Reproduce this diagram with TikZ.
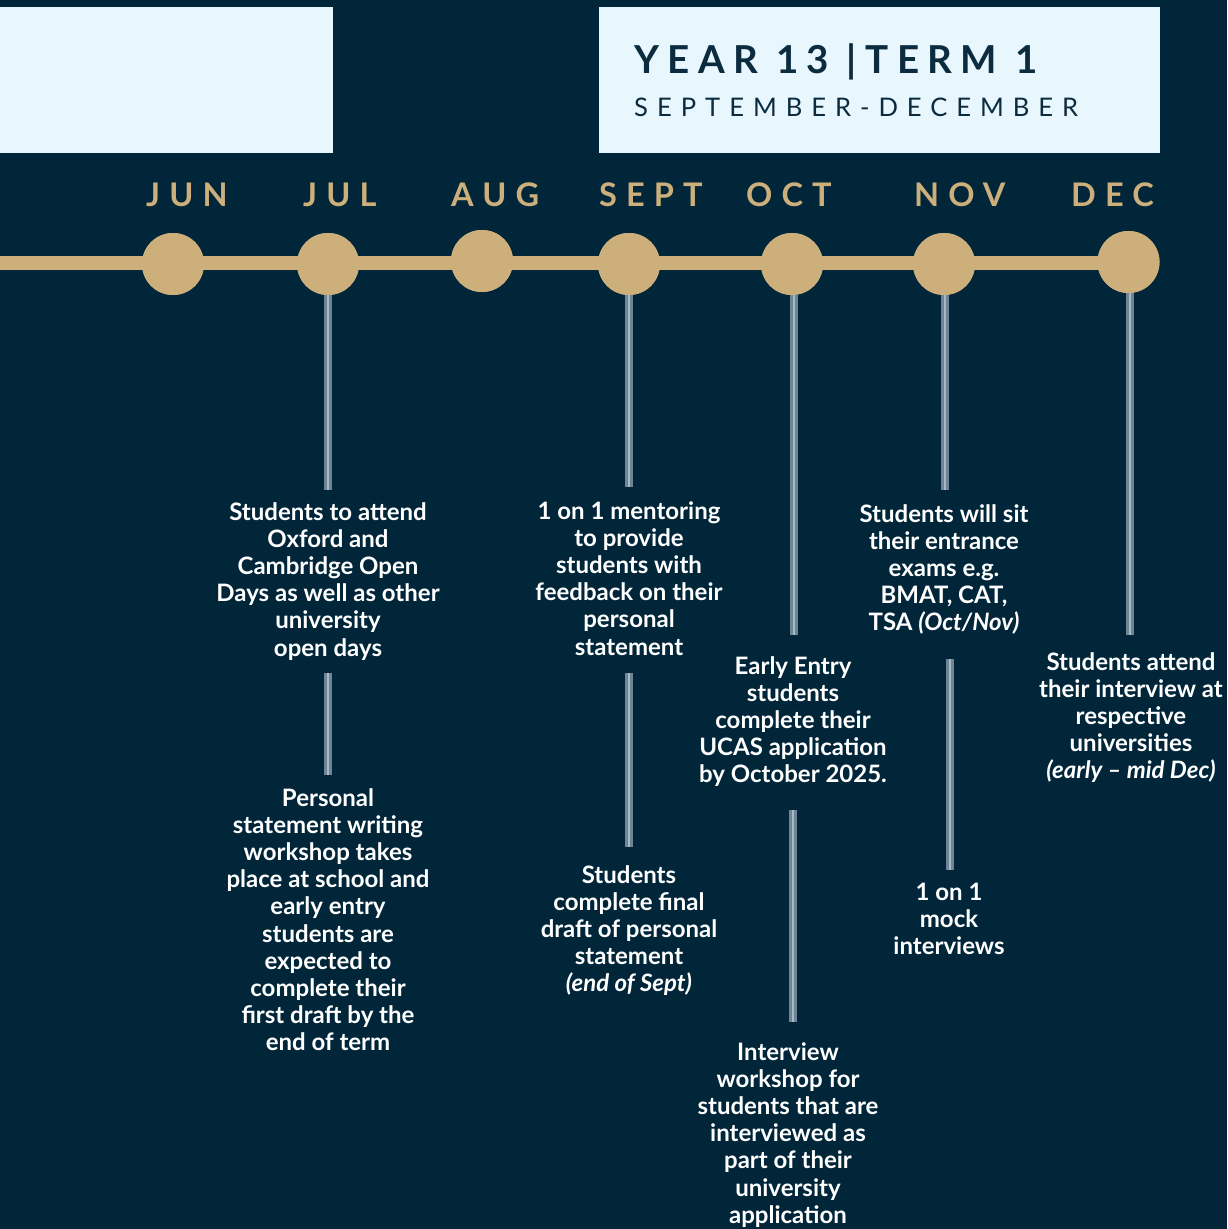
\documentclass[tikz,border=0pt]{standalone}
\usepackage{fontspec}
\setmainfont{Lato}
\newfontfamily\titlefont[LetterSpace=22]{Lato}
\newfontfamily\subfont[LetterSpace=35]{Lato}
\newfontfamily\monthfont[LetterSpace=28]{Lato}
\definecolor{bg}{HTML}{01263A}
\definecolor{gold}{HTML}{CCAF7B}
\definecolor{pale}{HTML}{E8F6FE}
\definecolor{navy}{HTML}{0B2B3E}
\definecolor{bardark}{HTML}{6F8494}
\definecolor{barlight}{HTML}{A9B9C4}
\tikzset{
  dot/.style={circle, fill=gold, minimum size=62, inner sep=0},
  month/.style={anchor=base west, inner sep=0, text=gold, font=\monthfont\bfseries\fontsize{32.5}{36}\selectfont},
  info/.style={anchor=north, inner sep=0, align=center, text=white, font=\bfseries\fontsize{24}{27.2}\selectfont},
  bar/.style={draw=bardark, line width=2.8, double=barlight, double distance=2.8},
}
\begin{document}
\begin{tikzpicture}[x=1pt,y=-1pt]
\fill[bg] (0,0) rectangle (1227,1229);
\useasboundingbox (0,0) rectangle (1227,1229);
% header boxes
\fill[pale] (0,7) rectangle (333,153);
\fill[pale] (599,7) rectangle (1160,153);
\node[anchor=base west, inner sep=0, text=navy, font=\titlefont\bfseries\fontsize{38.5}{42}\selectfont] (title) at (634,73.3) {YEAR 13 |TERM 1};
\node[anchor=base west, inner sep=0, text=navy, font=\subfont\fontsize{25.6}{30}\selectfont] (sub) at (634,116.7) {SEPTEMBER-DECEMBER};
% months
\node[month] (mjun) at (146,206) {JUN};
\node[month] (mjul) at (303,206) {JUL};
\node[month] (maug) at (451,206) {AUG};
\node[month] (msep) at (599,206) {SEPT};
\node[month] (moct) at (746,206) {OCT};
\node[month] (mnov) at (914,206) {NOV};
\node[month] (mdec) at (1071,206) {DEC};
% timeline
\coordinate (start) at (0,263);
\node[dot] (jun) at (173,264) {};
\node[dot] (jul) at (328,264) {};
\node[dot] (aug) at (482,261) {};
\node[dot] (sep) at (629,264) {};
\node[dot] (oct) at (792,264) {};
\node[dot] (nov) at (944,264) {};
\node[dot] (dec) at (1128.5,262) {};
\draw[gold, line width=14] (start) -- (start -| dec);
\foreach \n in {jun,jul,aug,sep,oct,nov,dec} {\fill[gold] (\n) circle (31);}
% texts
\node[info] (t1) at (328,502) {Students to attend\\Oxford and\\Cambridge Open\\Days as well as other\\university\\open days};
\node[info] (t2) at (328,788) {Personal\\statement writing\\workshop takes\\place at school and\\early entry\\students are\\expected to\\complete their\\first draft by the\\end of term};
\node[info] (t3) at (629,501) {1 on 1 mentoring\\to provide\\students with\\feedback on their\\personal\\statement};
\node[info] (t4) at (629,865) {Students\\complete final\\draft of personal\\statement\\\textit{(end of Sept)}};
\node[info] (t5) at (793,656) {Early Entry\\students\\complete their\\UCAS application\\by October 2025.};
\node[info] (t6) at (788,1042) {Interview\\workshop for\\students that are\\interviewed as\\part of their\\university\\application};
\node[info] (t7) at (944,504) {Students will sit\\their entrance\\exams e.g.\\BMAT, CAT,\\TSA \textit{(Oct/Nov)}};
\node[info] (t8) at (949,883) {1 on 1\\mock\\interviews};
\node[info] (t9) at (1131,652) {Students attend\\their interview at\\respective\\universities\\\textit{(early – mid Dec)}};
% connector ends
\coordinate (j1) at (328,490); \coordinate (j2a) at (328,673); \coordinate (j2b) at (328,775);
\coordinate (s1) at (629,487); \coordinate (s2a) at (629,673); \coordinate (s2b) at (629,847);
\coordinate (o1) at (794,635); \coordinate (o2a) at (793,810); \coordinate (o2b) at (793,1022);
\coordinate (n1) at (945,490); \coordinate (n2a) at (950,659); \coordinate (n2b) at (950,870);
\coordinate (d1) at (1130,635);
\draw[bar] (jul.south) -- (j1);
\draw[bar] (j2a) -- (j2b);
\draw[bar] (sep.south) -- (s1);
\draw[bar] (s2a) -- (s2b);
\draw[bar] (oct.south -| o1) -- (o1);
\draw[bar] (o2a) -- (o2b);
\draw[bar] (nov.south -| n1) -- (n1);
\draw[bar] (n2a) -- (n2b);
\draw[bar] (dec.south -| d1) -- (d1);
\end{tikzpicture}
\end{document}
